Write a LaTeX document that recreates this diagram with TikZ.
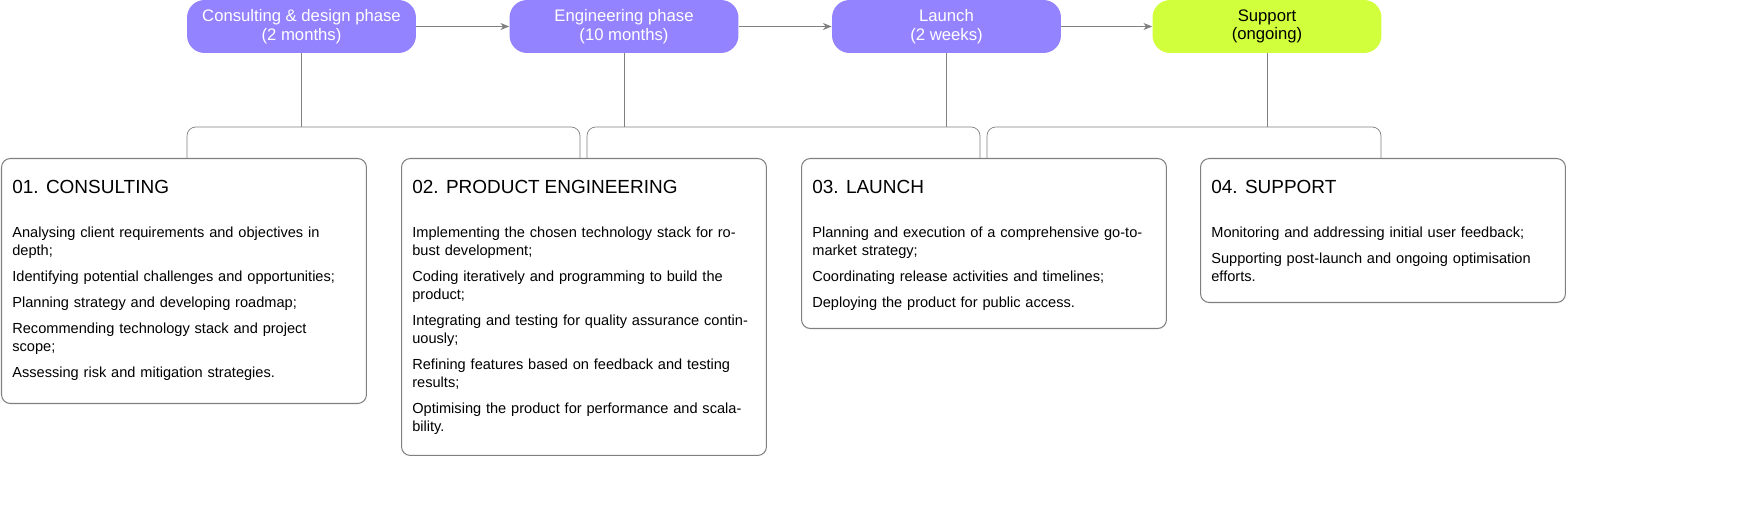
\documentclass[tikz,border=0pt]{standalone}
\usepackage{fontspec}
\setmainfont{Liberation Sans}
\usetikzlibrary{positioning,arrows.meta}
\definecolor{phasepurple}{HTML}{9483FF}
\definecolor{phasegreen}{HTML}{D2FF3C}
\definecolor{linegray}{HTML}{808080}
\tikzset{
  phase/.style = {rectangle,rounded corners=10pt,minimum width=4.58cm,minimum height=1.06cm,align=center,text=white,font=\fontsize{9.5}{10.6}\selectfont,inner sep=0pt},
  card/.style = {rectangle,draw=linegray,semithick,rounded corners=5pt,minimum width=7.3cm,anchor=north west,inner sep=0pt},
  cardtext/.style = {anchor=north west,text width=6.75cm,align=left,inner sep=0pt,font=\fontsize{8.3}{10.2}\selectfont},
  link/.style = {draw=linegray,thin},
  flow/.style = {draw=linegray,thin,-{Stealth[length=5pt,width=4pt]}}
}
\newcommand{\cardtitle}[1]{{\fontsize{10.8}{12}\selectfont #1}\par\vspace{15pt}}
\newcommand{\task}[1]{#1\par\vspace{4.6pt}}
\begin{document}
\begin{tikzpicture}[x=0.02cm,y=-0.02cm]
\useasboundingbox (0,0) rectangle (1752,510);
% phases
\node[phase,fill=phasepurple] (p1) at (301.5,26.5) {Consulting \& design phase\\(2 months)};
\node[phase,fill=phasepurple] (p2) at (624,26.5) {Engineering phase\\(10 months)};
\node[phase,fill=phasepurple] (p3) at (946.5,26.5) {Launch\\(2 weeks)};
\node[phase,fill=phasegreen,text=black] (p4) at (1267,26.5) {Support\\(ongoing)};
\foreach \a/\b in {p1/p2,p2/p3,p3/p4} \draw[flow] (\a) -- (\b);
% cards
\node[card,minimum height=4.9cm] (c1) at (1,158) {};
\node[card,minimum height=5.94cm] (c2) at (401,158) {};
\node[card,minimum height=3.4cm] (c3) at (801,158) {};
\node[card,minimum height=2.88cm] (c4) at (1200,158) {};
\node[cardtext] (t1) at (12,180) {\cardtitle{01. CONSULTING}
\task{Analysing client requirements and objectives in depth;}
\task{Identifying potential challenges and opportunities;}
\task{Planning strategy and developing roadmap;}
\task{Recommending technology stack and project scope;}
\task{Assessing risk and mitigation strategies.}};
\node[cardtext] (t2) at (412,180) {\cardtitle{02. PRODUCT ENGINEERING}
\task{Implementing the chosen technology stack for robust development;}
\task{Coding iteratively and programming to build the product;}
\task{Integrating and testing for quality assurance continuously;}
\task{Refining features based on feedback and testing results;}
\task{Optimising the product for performance and scalability.}};
\node[cardtext] (t3) at (812,180) {\cardtitle{03. LAUNCH}
\task{Planning and execution of a comprehensive go-to-market strategy;}
\task{Coordinating release activities and timelines;}
\task{Deploying the product for public access.}};
\node[cardtext] (t4) at (1211,180) {\cardtitle{04. SUPPORT}
\task{Monitoring and addressing initial user feedback;}
\task{Supporting post-launch and ongoing optimisation efforts.}};
% brackets
\coordinate (k1) at (301.5,127);
\coordinate (k2) at (624,127);
\coordinate (k3) at (946.5,127);
\coordinate (k4) at (1267,127);
\foreach \i in {1,...,4} \draw[link] (p\i.south) -- (k\i);
\draw[link,rounded corners=5pt] (c1.north -| 187,0) |- (580,127) -- (c2.north -| 580,0);
\draw[link,rounded corners=5pt] (c2.north -| 587,0) |- (980,127) -- (c3.north -| 980,0);
\draw[link,rounded corners=5pt] (c3.north -| 987,0) |- (1381,127) -- (c4.north -| 1381,0);
\end{tikzpicture}
\end{document}
